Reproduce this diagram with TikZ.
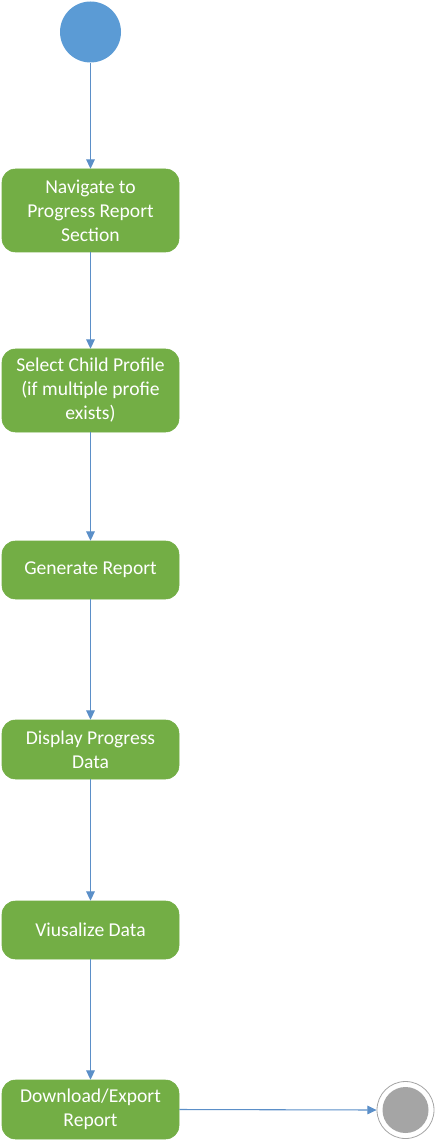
\documentclass[tikz,border=0pt]{standalone}
\usepackage{fontspec}
\setmainfont{Carlito}
\usetikzlibrary{arrows.meta}
\definecolor{startblue}{HTML}{5B9BD5}
\definecolor{lineblue}{HTML}{5B8FC8}
\definecolor{boxgreen}{HTML}{73AE45}
\definecolor{endgray}{HTML}{A5A5A5}
\tikzset{
  actbox/.style={draw=boxgreen, fill=boxgreen, rounded corners=10pt, text=white,
    minimum width=177*0.75pt, align=center, inner sep=0pt,
    font=\fontsize{14.7}{18}\selectfont},
  flow/.style={draw=lineblue, line width=0.8pt, -{Triangle[width=6.5pt,length=7pt]}},
}
\begin{document}
\begin{tikzpicture}[x=0.75pt,y=-0.75pt]
\useasboundingbox (0,0) rectangle (436,1144);
\node[circle, fill=startblue, minimum size=61*0.75pt, inner sep=0pt] (start) at (90.5,32) {};
\node[actbox, minimum height=83*0.75pt] (n1) at (90.5,210.5) {Navigate to\\Progress Report\\Section};
\node[actbox, minimum height=83*0.75pt] (n2) at (90.5,390.5) {Select Child Profile\\(if multiple profie\\exists)};
\node[actbox, minimum height=58*0.75pt] (n3) at (90.5,570) {Generate Report};
\node[actbox, minimum height=59*0.75pt] (n4) at (90.5,749.5) {Display Progress\\Data};
\node[actbox, minimum height=58*0.75pt] (n5) at (90.5,930) {Viusalize Data};
\node[actbox, minimum height=59*0.75pt] (n6) at (90.5,1109.5) {Download/Export\\Report};
\node[circle, draw=endgray, line width=0.6pt, fill=white, minimum size=57*0.75pt, inner sep=0pt] (end) at (405.5,1110) {};
\node[circle, fill=endgray, minimum size=46*0.75pt, inner sep=0pt] at (end) {};
\draw[flow] (start) -- (n1);
\draw[flow] (n1) -- (n2);
\draw[flow] (n2) -- (n3);
\draw[flow] (n3) -- (n4);
\draw[flow] (n4) -- (n5);
\draw[flow] (n5) -- (n6);
\draw[flow] (n6.east) -- (end.west);
\end{tikzpicture}
\end{document}
